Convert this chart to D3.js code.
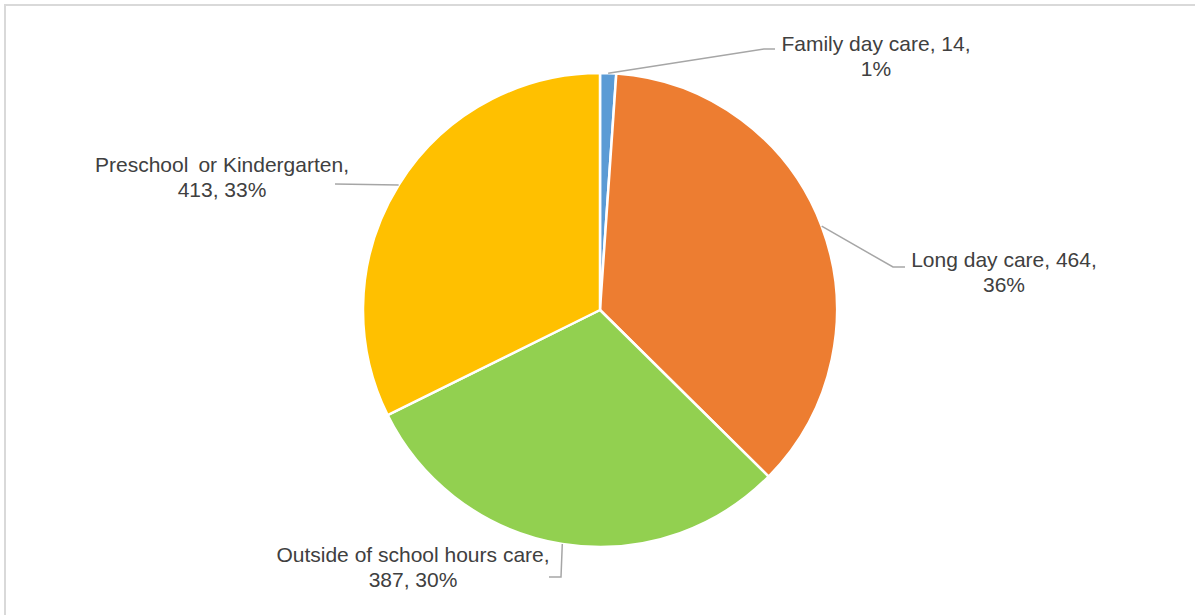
<!DOCTYPE html>
<html>
<head>
<meta charset="utf-8">
<script src="https://cdn.jsdelivr.net/npm/d3@7"></script>
<style>
  html, body { margin: 0; padding: 0; background: #fff; }
  svg { display: block; }
</style>
</head>
<body>
<svg id="chart" width="1195" height="615"></svg>
<script>
// ---- data ----
const categories = ["Family day care", "Long day care", "Outside of school hours care", "Preschool or Kindergarten"];
const values = [14, 464, 387, 413];
const percentLabels = ["1%", "36%", "30%", "33%"];
const colors = ["#5B9BD5", "#ED7D31", "#92D050", "#FFC000"];

// ---- layout (label lines as split by the reference) ----
const labelLines = [
  ["Family day care, 14,", "1%"],
  ["Long day care, 464,", "36%"],
  ["Outside of school hours care,", "387, 30%"],
  ["Preschool \u2009or Kindergarten,", "413, 33%"]
];
// label text centre x / first baseline y, and leader polyline (after the edge point)
const labelLayout = [
  { x: 876, y: 51, leader: [[764, 49], [775, 49]] },
  { x: 1004, y: 267, leader: [[893, 267], [905, 267]] },
  { x: 413, y: 562, leader: [[561, 577], [549, 577]] },
  { x: 222, y: 172, leader: [[335, 184]] }
];

const svg = d3.select("#chart");
const W = 1195, H = 615;
const cx = 600, cy = 310, R = 237;

// border
svg.append("rect")
  .attr("x", 5).attr("y", 5)
  .attr("width", W + 20).attr("height", H + 20)
  .attr("fill", "none").attr("stroke", "#d9d9d9").attr("stroke-width", 2);

const pie = d3.pie().value(d => d).sort(null);
const arcs = pie(values);
const arc = d3.arc().innerRadius(0).outerRadius(R);

const g = svg.append("g").attr("transform", `translate(${cx},${cy})`);
g.selectAll("path.slice")
  .data(arcs)
  .enter().append("path")
  .attr("class", "slice")
  .attr("d", arc)
  .attr("fill", (d, i) => colors[i])
  .attr("stroke", "#fff")
  .attr("stroke-width", 2.5)
  .attr("stroke-linejoin", "round");

// leader lines
arcs.forEach((a, i) => {
  const mid = (a.startAngle + a.endAngle) / 2;
  const p0 = [cx + R * Math.sin(mid), cy - R * Math.cos(mid)];
  const pts = [p0].concat(labelLayout[i].leader);
  svg.append("path")
    .attr("d", d3.line()(pts))
    .attr("fill", "none")
    .attr("stroke", "#a6a6a6")
    .attr("stroke-width", 1.5);
});

// labels
labelLines.forEach((lines, i) => {
  const L = labelLayout[i];
  const t = svg.append("text")
    .attr("x", L.x).attr("y", L.y)
    .attr("text-anchor", "middle")
    .attr("font-family", "Liberation Sans, Arial, sans-serif")
    .attr("font-size", 21)
    .attr("fill", "#404040")
    .attr("xml:space", "preserve")
    .style("white-space", "pre");
  lines.forEach((s, j) => {
    t.append("tspan").attr("x", L.x).attr("y", L.y + j * 25).text(s);
  });
});
</script>
</body>
</html>
